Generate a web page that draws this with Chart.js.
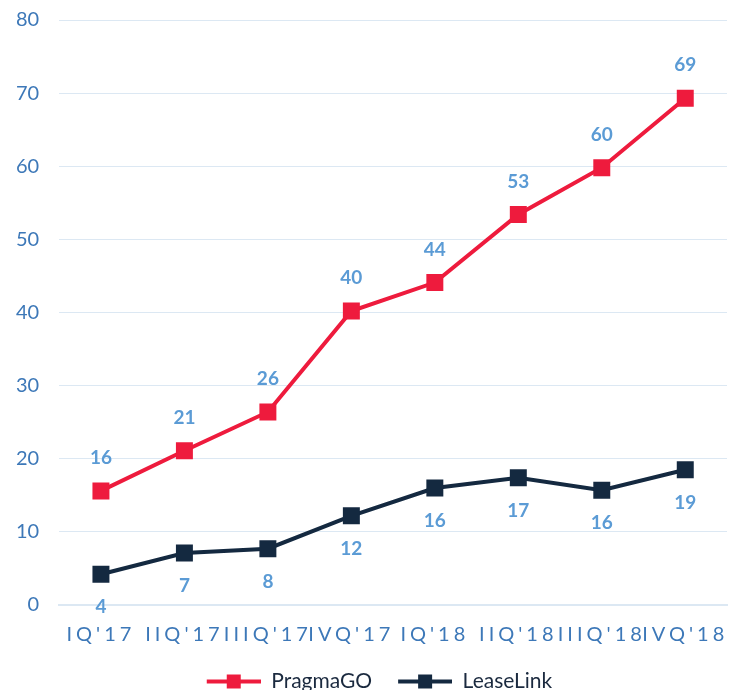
<!DOCTYPE html>
<html>
<head>
<meta charset="utf-8">
<script src="https://cdn.jsdelivr.net/npm/chart.js@4"></script>
<style>
  html, body { margin: 0; padding: 0; background: #ffffff; }
  #chart { display: block; }
</style>
</head>
<body>
<canvas id="chart" width="729" height="690"></canvas>
<script>
// kwartały
const quarters = ["IQ'17", "IIQ'17", "IIIQ'17", "IVQ'17", "IQ'18", "IIQ'18", "IIIQ'18", "IVQ'18"];
const pragmaValues = [15.6, 21.1, 26.4, 40.2, 44.1, 53.4, 59.8, 69.3];
const leaseValues = [4.2, 7.1, 7.7, 12.2, 16.0, 17.4, 15.7, 18.5];
const yTicks = [0, 10, 20, 30, 40, 50, 60, 70, 80];

const RED = '#EE1B3D';
const NAVY = '#142940';
const LABEL_BLUE = '#5B9BD5';
const AXIS_BLUE = '#3D78B8';
const GRID = '#DCE8F3';

// znacznik legendy: linia + kwadrat (z pustym marginesem po lewej)
function legendMarker(color) {
    const c = document.createElement('canvas');
    c.width = 66;
    c.height = 16;
    const g = c.getContext('2d');
    g.fillStyle = color;
    g.fillRect(12, 6, 54, 4);
    g.fillRect(32, 1, 14, 14);
    return c;
}

// etykiety wartości: PragmaGO nad punktem, LeaseLink pod punktem
const valueLabels = {
    id: 'valueLabels',
    afterDatasetsDraw(chart) {
        const { ctx } = chart;
        ctx.save();
        ctx.font = 'bold 19px Lato, sans-serif';
        ctx.fillStyle = LABEL_BLUE;
        ctx.textAlign = 'center';
        ctx.textBaseline = 'middle';
        chart.data.datasets.forEach((ds, di) => {
            const meta = chart.getDatasetMeta(di);
            const dy = di === 0 ? -33 : 33;
            meta.data.forEach((pt, i) => {
                ctx.fillText(String(Math.round(ds.data[i])), pt.x, pt.y + dy);
            });
        });
        ctx.restore();
    }
};

// rozstrzelone litery na osi X + lekkie przesunięcie legendy w prawo
const spacedXLabels = {
    id: 'spacedXLabels',
    afterLayout(chart) {
        if (chart.legend) {
            chart.legend.left += 6;
            chart.legend.right += 6;
        }
        const s = chart.scales.x;
        if (s.$spaced) return;
        const orig = s.drawLabels.bind(s);
        s.drawLabels = (area) => {
            chart.ctx.save();
            chart.ctx.letterSpacing = '4px';
            orig(area);
            chart.ctx.restore();
        };
        s.$spaced = true;
    }
};

new Chart(document.getElementById('chart'), {
    type: 'line',
    plugins: [valueLabels, spacedXLabels],
    data: {
        labels: quarters,
        datasets: [
            {
                label: 'PragmaGO',
                data: pragmaValues,
                borderColor: RED,
                backgroundColor: RED,
                borderWidth: 4,
                pointStyle: 'rect',
                pointRadius: 12,
                pointHoverRadius: 12,
                pointBorderWidth: 0,
                tension: 0
            },
            {
                label: 'LeaseLink',
                data: leaseValues,
                borderColor: NAVY,
                backgroundColor: NAVY,
                borderWidth: 4,
                pointStyle: 'rect',
                pointRadius: 12,
                pointHoverRadius: 12,
                pointBorderWidth: 0,
                tension: 0
            }
        ]
    },
    options: {
        responsive: false,
        maintainAspectRatio: false,
        animation: false,
        layout: { autoPadding: false, padding: { top: 8, left: 8, right: 2, bottom: -12 } },
        plugins: {
            tooltip: { enabled: false },
            legend: {
                position: 'bottom',
                labels: {
                    usePointStyle: true,
                    pointStyleWidth: 66,
                    color: '#1B2A3F',
                    font: { family: 'Lato, sans-serif', size: 21 },
                    padding: 14,
                    generateLabels(chart) {
                        return chart.data.datasets.map((ds, i) => ({
                            text: ds.label,
                            pointStyle: legendMarker(ds.borderColor),
                            fillStyle: ds.borderColor,
                            strokeStyle: ds.borderColor,
                            lineWidth: 0,
                            fontColor: '#1B2A3F',
                            hidden: false,
                            datasetIndex: i
                        }));
                    }
                }
            }
        },
        scales: {
            x: {
                offset: true,
                grid: { display: false },
                border: { color: GRID, width: 2 },
                ticks: {
                    color: AXIS_BLUE,
                    font: { family: 'Lato, sans-serif', size: 20 },
                    padding: 10,
                    maxRotation: 0,
                    autoSkip: false
                }
            },
            y: {
                min: 0,
                max: 80,
                afterBuildTicks(scale) {
                    scale.ticks = yTicks.map(v => ({ value: v }));
                },
                grid: {
                    color: GRID,
                    lineWidth: 1,
                    drawTicks: true,
                    tickLength: 12,
                    tickColor: 'rgba(0,0,0,0)'
                },
                border: { display: false },
                ticks: {
                    color: AXIS_BLUE,
                    font: { family: 'Lato, sans-serif', size: 20 },
                    padding: 8
                }
            }
        }
    }
});
</script>
</body>
</html>
